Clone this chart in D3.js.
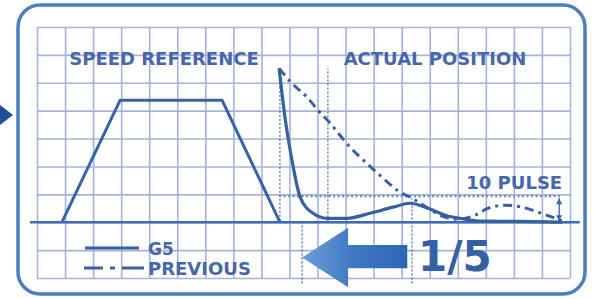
<!DOCTYPE html>
<html>
<head>
<meta charset="utf-8">
<script src="https://cdn.jsdelivr.net/npm/d3@7"></script>
<style>
  html, body { margin: 0; padding: 0; background: #ffffff; }
  svg { display: block; }
  text { font-family: "DejaVu Sans", sans-serif; font-weight: bold; }
</style>
</head>
<body>
<svg id="chart" width="595" height="299"></svg>
<script>
// ---- data (time in grid units, amplitude in grid units; 0 = baseline) ----
const gridCols = d3.range(0, 20);
const gridRows = d3.range(-2, 8);

const speedT = [0.89, 2.96, 6.60, 8.66];
const speedV = [0.00, 4.37, 4.37, 0.00];

const g5T = [8.63, 8.84, 9.09, 9.38, 9.84, 10.34, 11.05, 11.87, 12.69, 13.30, 13.94, 14.55, 15.26, 15.86, 17.22, 18.72];
const g5V = [5.52, 3.76, 2.22, 0.90, 0.32, 0.14, 0.14, 0.32, 0.54, 0.68, 0.50, 0.25, 0.11, 0.04, 0.03, 0.00];

const prevT = [8.63, 9.09, 9.63, 10.02, 10.45, 10.80, 11.16, 11.52, 11.94, 12.34, 12.83, 13.37, 13.94, 14.44, 15.01, 15.61, 16.08, 16.68, 17.29, 17.86, 18.47, 18.72];
const prevV = [5.52, 4.98, 4.48, 4.01, 3.55, 3.12, 2.69, 2.33, 1.94, 1.58, 1.15, 0.86, 0.50, 0.22, 0.11, 0.25, 0.50, 0.61, 0.54, 0.36, 0.14, 0.04];

const pulseBand = 0.93;           // "10 PULSE" tolerance level
const pulseSpan = [8.63, 18.72];
const baselineSpan = [-0.25, 19.35];

const markerT    = [8.66, 9.45, 10.37, 13.37];
const markerFrom = [0.05, -2.2, 0.03, -2.2];
const markerTo   = [4.96, 0.0, 5.52, 0.86];

const arrowTipT = 9.45, arrowHeadT = 11.09, arrowTailT = 13.2;
const arrowHeadV = [-0.2, -2.33], arrowShaftV = [-0.82, -1.65];

const titles = ["SPEED REFERENCE", "ACTUAL POSITION"];
const legendLabels = ["G5", "PREVIOUS"];
const ratioLabel = "1/5";
const pulseLabel = "10 PULSE";

// ---- drawing ----
const svg = d3.select("#chart");
const x = d3.scaleLinear().domain([0, 19]).range([37, 570]);
const y = d3.scaleLinear().domain([-2, 7]).range([278, 27]);

const ink = "#3a62ad";
const gridColor = "#a6b2da";

// frame
svg.append("rect").attr("x", 18).attr("y", 5).attr("width", 567).attr("height", 289)
  .attr("rx", 22).attr("fill", "#ffffff").attr("stroke", "#4c7ec3").attr("stroke-width", 3.5);
svg.append("path").attr("d", "M0,105 L13,115 L0,125 Z").attr("fill", "#1f4f9c");

// grid through axes
const gx = svg.append("g").attr("transform", `translate(0,${y(7)})`)
  .call(d3.axisTop(x).tickValues(gridCols).tickSize(-(y(-2) - y(7))).tickFormat(""));
const gy = svg.append("g").attr("transform", `translate(${x(0)},0)`)
  .call(d3.axisLeft(y).tickValues(gridRows).tickSize(-(x(19) - x(0))).tickFormat(""));
[gx, gy].forEach(g => {
  g.select(".domain").remove();
  g.selectAll(".tick line").attr("stroke", gridColor).attr("stroke-width", 1.6);
});

// titles
svg.append("text").attr("x", 164).attr("y", 65).attr("text-anchor", "middle")
  .attr("font-size", 18).attr("fill", "#4767ad").text(titles[0]);
svg.append("text").attr("x", 435).attr("y", 65).attr("text-anchor", "middle")
  .attr("font-size", 18).attr("fill", "#4767ad").text(titles[1]);

// baseline
svg.append("line").attr("x1", x(baselineSpan[0])).attr("x2", x(baselineSpan[1]))
  .attr("y1", y(0)).attr("y2", y(0)).attr("stroke", "#3c6cb8").attr("stroke-width", 2.5);

// vertical dotted markers
svg.append("g").selectAll("line").data(markerT).join("line")
  .attr("x1", d => x(d)).attr("x2", d => x(d))
  .attr("y1", (d, i) => y(markerFrom[i])).attr("y2", (d, i) => y(markerTo[i]))
  .attr("stroke", "#4a6cb2").attr("stroke-width", 1.3).attr("stroke-dasharray", "2,2");

// pulse band dotted line
svg.append("line").attr("x1", x(pulseSpan[0])).attr("x2", x(pulseSpan[1]))
  .attr("y1", y(pulseBand)).attr("y2", y(pulseBand))
  .attr("stroke", "#6a86c4").attr("stroke-width", 2).attr("stroke-dasharray", "2,2.5");

// dimension arrow
const ax = x(pulseSpan[1]) - 3;
svg.append("line").attr("x1", ax).attr("x2", ax).attr("y1", y(pulseBand) + 2).attr("y2", y(0) - 1)
  .attr("stroke", ink).attr("stroke-width", 1.3);
svg.append("path").attr("d", `M${ax},${y(pulseBand) + 2} l-3,6 l6,0 Z`).attr("fill", ink);
svg.append("path").attr("d", `M${ax},${y(0) - 1} l-3,-6 l6,0 Z`).attr("fill", ink);

svg.append("text").attr("x", x(pulseSpan[1])).attr("y", 189).attr("text-anchor", "end")
  .attr("font-size", 18).attr("fill", "#4767ad").text(pulseLabel);

// speed reference
const lin = d3.line().x(d => x(d[0])).y(d => y(d[1]));
svg.append("path").datum(d3.zip(speedT, speedV)).attr("d", lin)
  .attr("fill", "none").attr("stroke", "#3763ad").attr("stroke-width", 3).attr("stroke-linejoin", "round");

// previous (dash-dot)
const smooth = d3.line().x(d => x(d[0])).y(d => y(d[1])).curve(d3.curveMonotoneX);
svg.append("path").datum(d3.zip(prevT, prevV)).attr("d", smooth)
  .attr("fill", "none").attr("stroke", "#3a5ea8").attr("stroke-width", 3)
  .attr("stroke-dasharray", "9,5,3,5");

// G5 (solid)
svg.append("path").datum(d3.zip(g5T, g5V)).attr("d", smooth)
  .attr("fill", "none").attr("stroke", "#34619f").attr("stroke-width", 3.2).attr("stroke-linejoin", "round");

// big arrow
const defs = svg.append("defs");
const grad = defs.append("linearGradient").attr("id", "ag").attr("x1", "0").attr("x2", "1").attr("y1", "0").attr("y2", "0");
grad.append("stop").attr("offset", "0").attr("stop-color", "#6c9cd8");
grad.append("stop").attr("offset", "0.5").attr("stop-color", "#3f77c2");
grad.append("stop").attr("offset", "1").attr("stop-color", "#2f66b4");
const midV = (arrowHeadV[0] + arrowHeadV[1]) / 2;
const arrowPts = [
  [arrowTipT, midV], [arrowHeadT, arrowHeadV[0]], [arrowHeadT, arrowShaftV[0]],
  [arrowTailT, arrowShaftV[0]], [arrowTailT, arrowShaftV[1]], [arrowHeadT, arrowShaftV[1]],
  [arrowHeadT, arrowHeadV[1]]
];
svg.append("path").attr("d", lin(arrowPts) + "Z").attr("fill", "url(#ag)");

svg.append("text").attr("x", x(13.58)).attr("y", y(-1.74)).attr("font-size", 42)
  .attr("fill", "#3460a8").text(ratioLabel);

// legend
svg.append("line").attr("x1", 85).attr("x2", 139).attr("y1", 248).attr("y2", 248)
  .attr("stroke", "#34619f").attr("stroke-width", 3.2);
svg.append("line").attr("x1", 84).attr("x2", 144).attr("y1", 268).attr("y2", 268)
  .attr("stroke", "#3a5ea8").attr("stroke-width", 3.2).attr("stroke-dasharray", "19,7,5,7,22");
svg.append("text").attr("x", 148).attr("y", 255).attr("font-size", 17).attr("fill", "#4767ad").text(legendLabels[0]);
svg.append("text").attr("x", 148).attr("y", 275).attr("font-size", 18).attr("fill", "#4767ad").text(legendLabels[1]);
</script>
</body>
</html>
